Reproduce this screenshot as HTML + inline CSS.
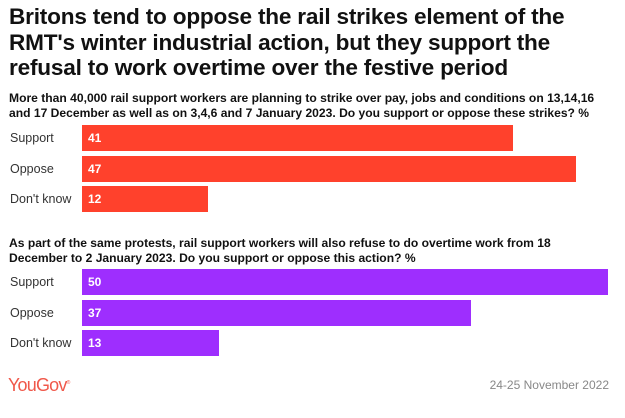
<!DOCTYPE html>
<html><head><meta charset="utf-8"><style>
body{margin:0;width:625px;height:418px;background:#fff;font-family:"Liberation Sans",sans-serif;position:relative;overflow:hidden}
.t{position:absolute;left:9px;top:4px;font-size:22.6px;font-weight:bold;line-height:25.5px;color:#111;letter-spacing:-0.2px}
.s{position:absolute;left:9px;font-size:12.1px;font-weight:bold;line-height:14.5px;color:#111}
.l{position:absolute;left:10px;font-size:12.5px;color:#333;height:26px;line-height:26px}
.b{position:absolute;left:82px;height:26px;line-height:26px;color:#fff;font-size:12px;font-weight:bold;padding-left:6px;box-sizing:border-box}
.r{background:#ff412c}.p{background:#9e2efe}
</style></head><body>
<div class="t">Britons tend to oppose the rail strikes element of the<br>RMT's winter industrial action, but they support the<br>refusal to work overtime over the festive period</div>
<div class="s" style="top:91px">More than 40,000 rail support workers are planning to strike over pay, jobs and conditions on 13,14,16<br>and 17 December as well as on 3,4,6 and 7 January 2023. Do you support or oppose these strikes? %</div>
<div class="l" style="top:125px">Support</div><div class="b r" style="top:125px;width:431px">41</div>
<div class="l" style="top:156px">Oppose</div><div class="b r" style="top:156px;width:494px">47</div>
<div class="l" style="top:186px">Don't know</div><div class="b r" style="top:186px;width:126px">12</div>
<div class="s" style="top:236px">As part of the same protests, rail support workers will also refuse to do overtime work from 18<br>December to 2 January 2023. Do you support or oppose this action? %</div>
<div class="l" style="top:269px">Support</div><div class="b p" style="top:269px;width:526px">50</div>
<div class="l" style="top:300px">Oppose</div><div class="b p" style="top:300px;width:389px">37</div>
<div class="l" style="top:330px">Don't know</div><div class="b p" style="top:330px;width:137px">13</div>
<div style="position:absolute;left:8px;top:375px;font-size:18px;color:#f0584a;letter-spacing:-0.8px">YouGov<sup style="font-size:5px">®</sup></div>
<div style="position:absolute;right:16px;top:378px;font-size:12px;color:#888">24-25 November 2022</div>
</body></html>
